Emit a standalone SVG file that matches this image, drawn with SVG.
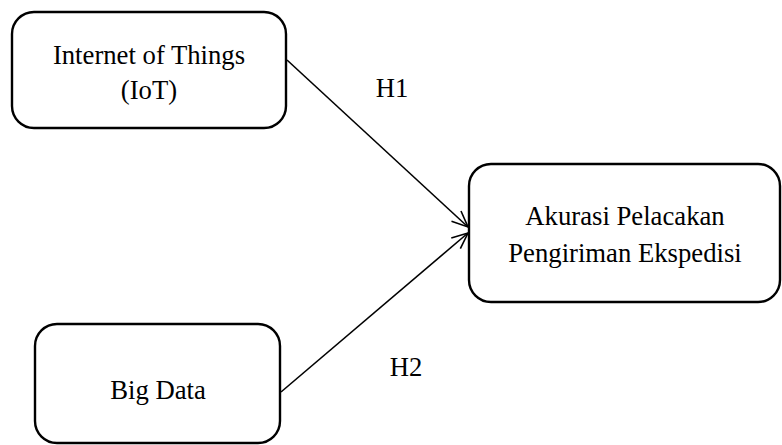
<svg xmlns="http://www.w3.org/2000/svg" width="782" height="445" viewBox="0 0 782 445">
<style>
.box{fill:#fff;stroke:#000;stroke-width:2.4}
.t{font-family:"Liberation Serif","Times New Roman",serif;font-size:26.7px;fill:#000;text-anchor:middle}
.c{stroke:#000;stroke-width:1.6;fill:none}
</style>
<defs>
<marker id="ah" viewBox="0 0 20 20" refX="18" refY="10" markerWidth="20" markerHeight="20" markerUnits="userSpaceOnUse" orient="auto">
<path d="M2,3 L18,10 L2,17" fill="none" stroke="#000" stroke-width="1.6"/>
</marker>
</defs>
<rect width="782" height="445" fill="#fff"/>
<g id="connectors">
<line class="c" x1="287" y1="60" x2="468" y2="227" marker-end="url(#ah)"/>
<line class="c" x1="281" y1="392" x2="468" y2="233" marker-end="url(#ah)"/>
<text class="t" x="392" y="97">H1</text>
<text class="t" x="406" y="376">H2</text>
</g>
<g id="iot">
<rect class="box" x="12" y="12" width="274" height="116" rx="22"/>
<text class="t" x="149" y="64">Internet of Things</text>
<text class="t" x="149" y="99">(IoT)</text>
</g>
<g id="bigdata">
<rect class="box" x="35" y="324" width="245" height="119" rx="22"/>
<text class="t" x="158" y="399">Big Data</text>
</g>
<g id="akurasi">
<rect class="box" x="469" y="164" width="311" height="138" rx="22"/>
<text class="t" x="625" y="225">Akurasi Pelacakan</text>
<text class="t" x="625" y="262">Pengiriman Ekspedisi</text>
</g>
</svg>
